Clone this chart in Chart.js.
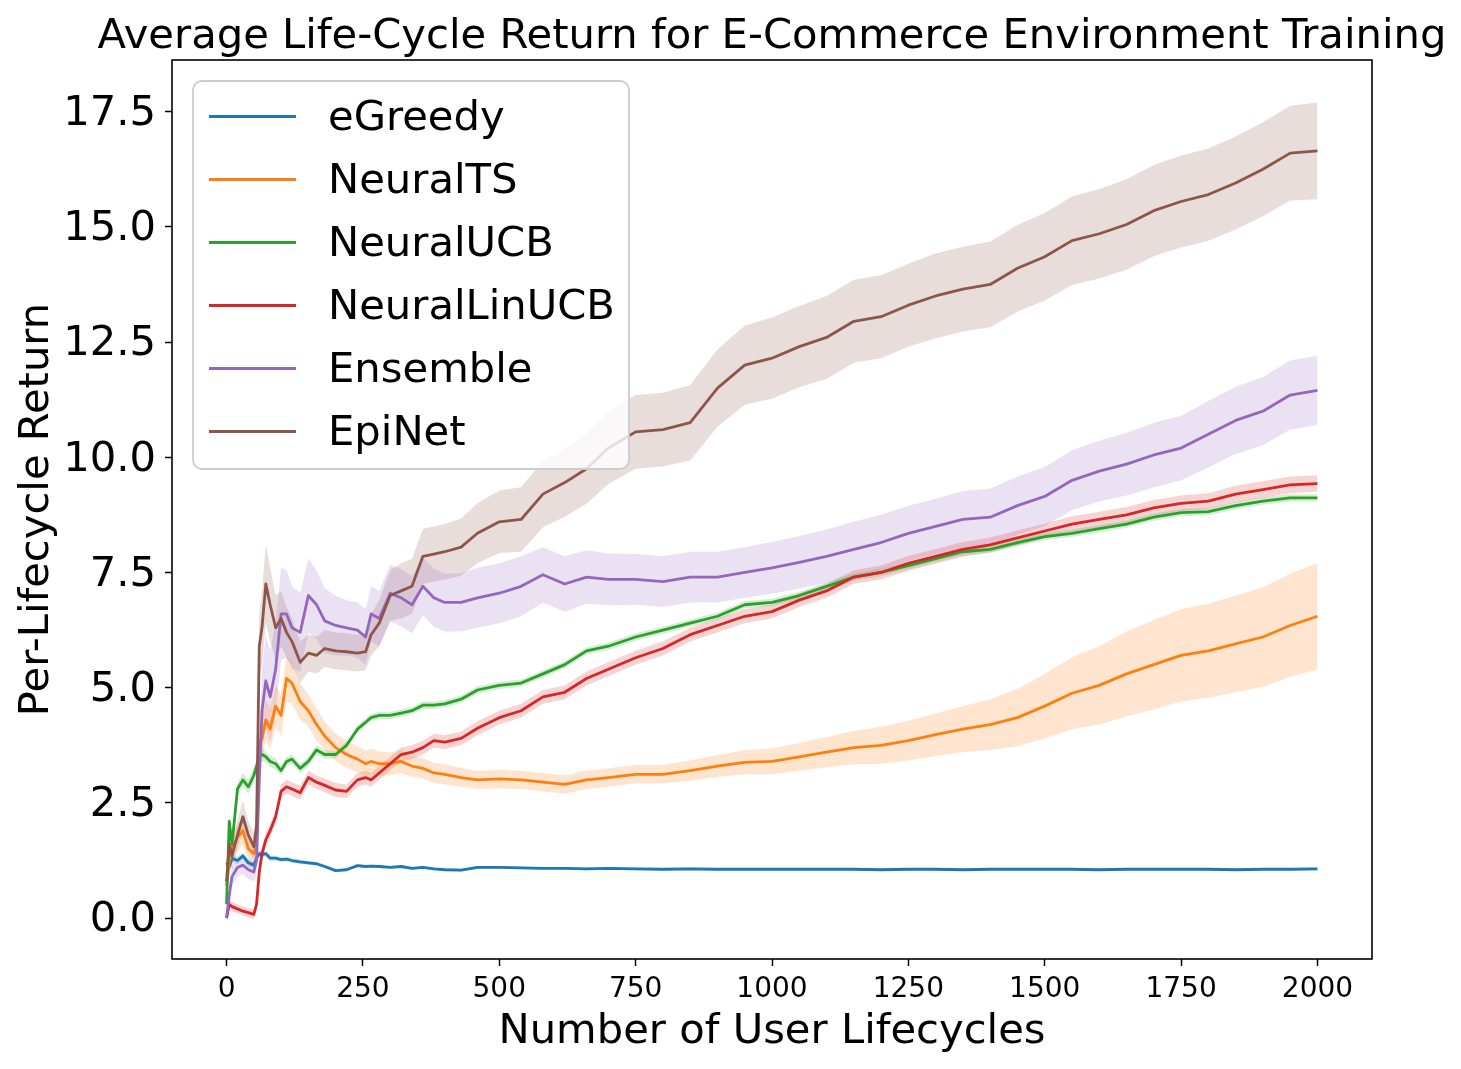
<!DOCTYPE html>
<html><head><meta charset="utf-8">
<script src="https://cdn.jsdelivr.net/npm/chart.js@4.4.1/dist/chart.umd.min.js"></script>
<style>html,body{margin:0;padding:0;background:#fff;overflow:hidden}canvas{display:block}</style>
</head><body>
<canvas id="c" width="1461" height="1069"></canvas>
<script>
// ---- data ----
const steps = [0,5,10,20,30,40,50,55,60,65,
  72,80,90,100,110,120,135,150,165,180,
  200,220,240,255,265,280,300,320,340,360,
  380,400,430,460,500,540,580,620,660,700,
  750,800,850,900,950,1000,1050,1100,1150,1200,
  1250,1300,1350,1400,1450,1500,1550,1600,1650,1700,
  1750,1800,1850,1900,1950,2000];

const eGreedy = [1.2,1.1,1.3,1.25,1.35,1.2,1.15,1.3,1.4,1.38,
  1.4,1.3,1.3,1.27,1.28,1.25,1.22,1.2,1.18,1.12,
  1.03,1.05,1.14,1.12,1.13,1.12,1.1,1.12,1.08,1.1,
  1.07,1.05,1.04,1.1,1.1,1.09,1.08,1.08,1.07,1.08,
  1.07,1.06,1.07,1.06,1.06,1.06,1.06,1.06,1.06,1.05,
  1.06,1.06,1.05,1.06,1.06,1.06,1.06,1.05,1.06,1.06,
  1.06,1.06,1.05,1.06,1.06,1.07];
const eGreedySpread = [0.08,0.08,0.08,0.08,0.08,0.08,0.08,0.08,0.08,0.08,
  0.06,0.06,0.06,0.05,0.05,0.05,0.05,0.04,0.04,0.04,
  0.03,0.03,0.03,0.03,0.03,0.03,0.03,0.03,0.03,0.03,
  0.03,0.03,0.03,0.03,0.03,0.03,0.03,0.03,0.03,0.03,
  0.03,0.03,0.03,0.03,0.03,0.03,0.03,0.03,0.03,0.03,
  0.03,0.03,0.03,0.03,0.03,0.03,0.03,0.03,0.03,0.03,
  0.03,0.03,0.03,0.03,0.03,0.03];

const neuralTS = [0.7,1.2,1.5,1.75,1.9,1.5,1.4,1.6,3.8,3.9,
  4.3,4.1,4.6,4.4,5.2,5.1,4.7,4.5,4.2,3.95,
  3.7,3.55,3.45,3.35,3.4,3.35,3.35,3.4,3.3,3.25,
  3.15,3.12,3.05,3.0,3.02,3.0,2.95,2.9,3.0,3.05,
  3.12,3.12,3.2,3.3,3.38,3.4,3.5,3.6,3.7,3.75,
  3.85,3.98,4.1,4.2,4.35,4.6,4.88,5.05,5.3,5.5,
  5.7,5.8,5.95,6.1,6.35,6.55];
const neuralTSSpread = [0.2,0.3,0.3,0.3,0.3,0.25,0.2,0.25,0.4,0.45,
  0.45,0.45,0.45,0.45,0.5,0.45,0.4,0.35,0.35,0.3,
  0.3,0.3,0.28,0.28,0.28,0.26,0.25,0.25,0.24,0.22,
  0.22,0.22,0.2,0.2,0.2,0.2,0.2,0.2,0.2,0.2,
  0.2,0.2,0.22,0.24,0.26,0.28,0.3,0.33,0.36,0.4,
  0.43,0.46,0.5,0.55,0.62,0.7,0.78,0.85,0.92,0.97,
  1.0,1.02,1.05,1.08,1.12,1.15];

const neuralUCB = [0.3,2.1,1.6,2.8,3.0,2.85,3.1,3.3,3.5,3.55,
  3.5,3.4,3.35,3.2,3.4,3.45,3.25,3.4,3.65,3.55,
  3.55,3.75,4.1,4.25,4.35,4.4,4.4,4.45,4.5,4.62,
  4.62,4.65,4.75,4.95,5.05,5.1,5.3,5.5,5.8,5.9,
  6.1,6.25,6.4,6.55,6.8,6.85,7.0,7.2,7.4,7.5,
  7.65,7.8,7.95,8.0,8.15,8.28,8.35,8.45,8.55,8.7,
  8.8,8.82,8.95,9.05,9.12,9.12];
const neuralUCBSpread = [0.15,0.15,0.15,0.15,0.15,0.15,0.15,0.15,0.15,0.15,
  0.12,0.12,0.12,0.1,0.1,0.1,0.1,0.1,0.1,0.1,
  0.08,0.08,0.08,0.08,0.08,0.08,0.08,0.08,0.08,0.08,
  0.08,0.08,0.08,0.08,0.08,0.08,0.08,0.08,0.08,0.08,
  0.08,0.08,0.08,0.08,0.08,0.08,0.08,0.08,0.08,0.08,
  0.08,0.08,0.08,0.08,0.08,0.08,0.08,0.08,0.08,0.08,
  0.08,0.08,0.08,0.08,0.08,0.08];

const neuralLinUCB = [0.0,0.3,0.25,0.2,0.15,0.12,0.08,0.3,1.0,1.4,
  1.7,1.9,2.2,2.75,2.85,2.8,2.72,3.05,2.95,2.88,
  2.78,2.75,3.0,3.05,3.0,3.15,3.35,3.55,3.6,3.7,
  3.85,3.82,3.9,4.12,4.35,4.5,4.8,4.9,5.2,5.4,
  5.65,5.85,6.15,6.35,6.55,6.65,6.9,7.1,7.4,7.5,
  7.7,7.85,8.0,8.1,8.25,8.4,8.55,8.65,8.75,8.9,
  9.0,9.05,9.2,9.3,9.4,9.43];
const neuralLinUCBSpread = [0.1,0.1,0.1,0.1,0.1,0.1,0.1,0.1,0.12,0.12,
  0.15,0.15,0.15,0.15,0.15,0.15,0.15,0.15,0.15,0.15,
  0.15,0.15,0.15,0.15,0.15,0.15,0.15,0.15,0.15,0.15,
  0.15,0.15,0.15,0.15,0.15,0.15,0.15,0.15,0.15,0.15,
  0.15,0.15,0.15,0.15,0.15,0.15,0.15,0.15,0.15,0.15,
  0.16,0.16,0.16,0.16,0.16,0.16,0.17,0.17,0.17,0.17,
  0.17,0.17,0.18,0.18,0.18,0.18];

const ensemble = [0.0,0.5,0.9,1.1,1.15,1.05,1.0,1.25,3.0,4.5,
  5.15,4.8,5.4,6.6,6.6,6.3,6.2,7.0,6.8,6.45,
  6.35,6.3,6.25,6.1,6.6,6.5,7.05,6.95,6.8,7.2,
  6.95,6.85,6.85,6.95,7.05,7.2,7.45,7.25,7.4,7.35,
  7.35,7.3,7.4,7.4,7.5,7.6,7.72,7.85,8.0,8.15,
  8.35,8.5,8.65,8.7,8.95,9.15,9.5,9.7,9.85,10.05,
  10.2,10.5,10.8,11.0,11.35,11.45];
const ensembleSpread = [0.1,0.2,0.2,0.2,0.2,0.2,0.2,0.3,0.6,0.9,
  1.0,1.0,1.0,1.0,0.95,0.9,0.85,0.8,0.75,0.7,
  0.65,0.6,0.6,0.6,0.6,0.6,0.62,0.62,0.62,0.63,
  0.63,0.63,0.63,0.65,0.65,0.65,0.6,0.6,0.58,0.56,
  0.55,0.55,0.55,0.55,0.55,0.56,0.57,0.58,0.6,0.6,
  0.6,0.6,0.62,0.62,0.63,0.64,0.65,0.66,0.68,0.7,
  0.7,0.72,0.73,0.74,0.75,0.75];

const epiNet = [0.8,1.6,1.35,1.8,2.2,1.8,1.55,2.0,5.9,6.3,
  7.25,6.8,6.3,6.5,6.2,6.0,5.55,5.75,5.7,5.85,
  5.8,5.78,5.75,5.78,6.15,6.4,7.0,7.1,7.2,7.85,
  7.9,7.95,8.05,8.35,8.6,8.65,9.2,9.45,9.75,10.2,
  10.55,10.6,10.75,11.5,12.0,12.15,12.4,12.6,12.95,13.05,
  13.3,13.5,13.65,13.75,14.1,14.35,14.7,14.85,15.05,15.35,
  15.55,15.7,15.95,16.25,16.6,16.65];
const epiNetSpread = [0.2,0.3,0.3,0.3,0.35,0.3,0.3,0.4,0.7,0.8,
  0.85,0.8,0.7,0.6,0.55,0.5,0.45,0.4,0.4,0.4,
  0.4,0.4,0.4,0.4,0.45,0.5,0.55,0.6,0.6,0.6,
  0.6,0.6,0.62,0.65,0.68,0.7,0.72,0.74,0.76,0.78,
  0.8,0.8,0.82,0.84,0.86,0.88,0.88,0.9,0.9,0.9,
  0.9,0.92,0.92,0.93,0.94,0.95,0.96,0.97,0.98,0.99,
  1.0,1.0,1.01,1.02,1.03,1.05];

const seriesNames = ['eGreedy','NeuralTS','NeuralUCB','NeuralLinUCB','Ensemble','EpiNet'];
const seriesMeans = [eGreedy, neuralTS, neuralUCB, neuralLinUCB, ensemble, epiNet];
const seriesSpreads = [eGreedySpread, neuralTSSpread, neuralUCBSpread, neuralLinUCBSpread, ensembleSpread, epiNetSpread];
const seriesColors = ['#1f77b4','#ff7f0e','#2ca02c','#d62728','#9467bd','#8c564b'];
const xTicks = [0,250,500,750,1000,1250,1500,1750,2000];
const yTicks = [0,2.5,5,7.5,10,12.5,15,17.5];
const titleText = 'Average Life-Cycle Return for E-Commerce Environment Training';
const xLabel = 'Number of User Lifecycles';
const yLabel = 'Per-Lifecycle Return';

// ---- build datasets ----
const FONT = 'DejaVu Sans';
const BIG = 41.7;
function rgba(hex, a){const n=parseInt(hex.slice(1),16);return `rgba(${n>>16&255},${n>>8&255},${n&255},${a})`;}
const datasets = [];
seriesNames.forEach((name, i) => {
  const m = seriesMeans[i], s = seriesSpreads[i];
  datasets.push({label: name+' lower', data: steps.map((x,k)=>({x, y: m[k]-s[k]})),
    borderWidth:0, pointRadius:0, fill:false, order: 20+i, showLine:true});
  datasets.push({label: name+' upper', data: steps.map((x,k)=>({x, y: m[k]+s[k]})),
    borderWidth:0, pointRadius:0, fill:'-1', backgroundColor: rgba(seriesColors[i],0.2), order: 20+i, showLine:true});
});
seriesNames.forEach((name, i) => {
  datasets.push({label: name, data: steps.map((x,k)=>({x, y: seriesMeans[i][k]})),
    borderColor: seriesColors[i], borderWidth: 2.8, pointRadius: 0, fill:false,
    borderJoinStyle:'round', order: 10 - i});
});

const overlay = {
  id: 'overlay',
  afterDatasetsDraw(chart) {
    const {ctx, chartArea: a} = chart;
    ctx.save();
    // spines
    ctx.strokeStyle = '#000'; ctx.lineWidth = 1.6;
    ctx.strokeRect(a.left, a.top, a.right - a.left, a.bottom - a.top);
    // legend
    const lx = 193, ly = 81, lw = 436, lh = 388, r = 9;
    ctx.beginPath(); ctx.roundRect(lx, ly, lw, lh, r);
    ctx.fillStyle = 'rgba(255,255,255,0.8)'; ctx.fill();
    ctx.strokeStyle = '#cccccc'; ctx.lineWidth = 1.8; ctx.stroke();
    ctx.font = `${BIG}px "${FONT}"`; ctx.textBaseline = 'middle'; ctx.textAlign = 'left';
    seriesNames.forEach((name, i) => {
      const y = 116.5 + 63 * i;
      ctx.strokeStyle = seriesColors[i]; ctx.lineWidth = 3;
      ctx.beginPath(); ctx.moveTo(209, y); ctx.lineTo(296, y); ctx.stroke();
      ctx.fillStyle = '#000'; ctx.fillText(name, 328, y + 3);
    });
    // title
    ctx.textAlign = 'center'; ctx.textBaseline = 'alphabetic';
    ctx.fillText(titleText, (a.left + a.right) / 2, 48);
    ctx.restore();
  }
};

new Chart(document.getElementById('c'), {
  type: 'line',
  data: { datasets },
  options: {
    responsive: false, animation: false, devicePixelRatio: 1,
    layout: { padding: { left: 0, right: 89, top: 60, bottom: 0 } },
    plugins: { legend: { display: false }, tooltip: { enabled: false }, title: { display: false },
      filler: { propagate: false } },
    elements: { line: { tension: 0 } },
    scales: {
      x: {
        type: 'linear', min: -100, max: 2100,
        afterFit: s => { s.height = 110; },
        afterBuildTicks: s => { s.ticks = xTicks.map(v => ({ value: v })); },
        grid: { drawOnChartArea: false, drawTicks: true, tickLength: 7, tickWidth: 1.5, tickColor: '#000' },
        border: { display: false },
        ticks: { font: { family: FONT, size: 28 }, color: '#000', padding: 7, maxRotation: 0,
          callback: v => String(v) },
        title: { display: true, text: xLabel, font: { family: FONT, size: BIG }, color: '#000',
          padding: { top: 0, bottom: 12 } }
      },
      y: {
        type: 'linear', min: -0.887, max: 18.62,
        afterFit: s => { s.width = 172; },
        afterBuildTicks: s => { s.ticks = yTicks.map(v => ({ value: v })); },
        grid: { drawOnChartArea: false, drawTicks: true, tickLength: 7, tickWidth: 1.5, tickColor: '#000' },
        border: { display: false },
        ticks: { font: { family: FONT, size: BIG }, color: '#000', padding: 9, labelOffset: 2.5,
          callback: v => Number(v).toFixed(1) },
        title: { display: true, text: yLabel, font: { family: FONT, size: BIG }, color: '#000',
          padding: { top: 12, bottom: 0 } }
      }
    }
  },
  plugins: [overlay]
});
</script>
</body></html>
